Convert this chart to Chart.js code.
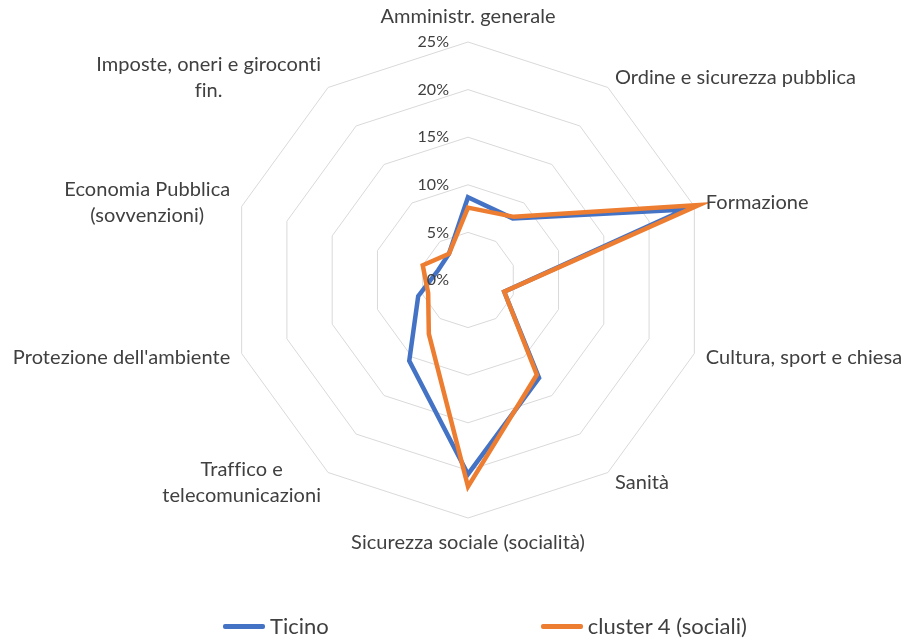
<!DOCTYPE html>
<html>
<head>
<meta charset="utf-8">
<script src="https://cdn.jsdelivr.net/npm/chart.js@4/dist/chart.umd.min.js"></script>
<style>
  body { margin: 0; background: #fff; }
  #wrap { position: relative; width: 905px; height: 641px; }
  #legend { position: absolute; left: 223px; top: 612px; display: flex; gap: 212px;
            font-family: Lato, sans-serif; font-size: 22px; color: #404040;
            font-variant-ligatures: none; }
  .item { display: flex; align-items: center; line-height: 28px; }
  .mark { width: 42px; height: 5px; border-radius: 2px; margin-right: 5px; }
</style>
</head>
<body>
<div id="wrap">
  <canvas id="myChart" width="905" height="641"></canvas>
  <div id="legend"></div>
</div>
<script>
const categories = [
  "Amministr. generale",
  "Ordine e sicurezza pubblica",
  "Formazione",
  "Cultura, sport e chiesa",
  "Sanità",
  "Sicurezza sociale (socialità)",
  ["Traffico e", "telecomunicazioni"],
  "Protezione dell'ambiente",
  ["Economia Pubblica", "(sovvenzioni)"],
  ["Imposte, oneri e giroconti", "fin."]
];
const ticinoValues = [8.7, 8.0, 24.0, 4.0, 12.7, 20.4, 10.5, 5.5, 3.3, 3.4];
const clusterValues = [7.6, 8.2, 25.5, 4.0, 12.3, 21.7, 7.0, 4.4, 5.0, 3.4];
const tickLabels = ["0%", "5%", "10%", "15%", "20%", "25%"];

const textColor = "#404040";

// draws category labels and % ticks Excel-style (ticks sit left of the vertical axis)
const radarText = {
  id: "radarText",
  afterDraw(chart) {
    const scale = chart.scales.r;
    const ctx = chart.ctx;
    ctx.save();
    ctx.fillStyle = textColor;
    ctx.letterSpacing = "0.05px"; // stops the fi ligature

    ctx.font = "16px Lato";
    ctx.textAlign = "right";
    ctx.textBaseline = "middle";
    scale.ticks.forEach((t, i) => {
      const y = scale.yCenter - scale.getDistanceFromCenterForValue(t.value);
      ctx.fillText(tickLabels[i], scale.xCenter - 19, y);
    });

    ctx.font = "20px Lato";
    const lh = 26;
    const n = categories.length;
    categories.forEach((lab, i) => {
      const lines = Array.isArray(lab) ? lab : [lab];
      const p = scale.getPointPosition(i, scale.drawingArea + 12);
      const widths = lines.map(l => ctx.measureText(l).width);
      const w = Math.max(...widths);
      let cx, top;
      if (i === 0) {
        cx = p.x; top = p.y - lines.length * lh;
      } else if (i === n / 2) {
        cx = p.x; top = p.y;
      } else if (i < n / 2) {
        cx = p.x + w / 2; top = p.y - lines.length * lh / 2;
      } else {
        cx = p.x - w / 2; top = p.y - lines.length * lh / 2;
      }
      ctx.textAlign = "center";
      ctx.textBaseline = "middle";
      lines.forEach((l, k) => ctx.fillText(l, cx, top + lh * k + lh / 2));
    });
    ctx.restore();
  }
};

const chart = new Chart(document.getElementById("myChart").getContext("2d"), {
  type: "radar",
  data: {
    labels: categories,
    datasets: [
      {
        label: "Ticino",
        data: ticinoValues,
        borderColor: "#4472C4",
        borderWidth: 4.5,
        pointRadius: 0,
        fill: false,
        clip: false,
        order: 1
      },
      {
        label: "cluster 4 (sociali)",
        data: clusterValues,
        borderColor: "#ED7D31",
        borderWidth: 4.5,
        pointRadius: 0,
        fill: false,
        clip: false,
        order: 0
      }
    ]
  },
  options: {
    responsive: false,
    animation: false,
    layout: { padding: { left: 230, right: 199, top: 42, bottom: 123 } },
    plugins: {
      legend: { display: false },
      tooltip: { enabled: false }
    },
    scales: {
      r: {
        min: 0,
        max: 25,
        ticks: { stepSize: 5, display: false },
        grid: { color: "#D9D9D9", lineWidth: 1 },
        angleLines: { display: false },
        pointLabels: { display: false }
      }
    }
  },
  plugins: [radarText]
});

// html legend
const legend = document.getElementById("legend");
chart.data.datasets.forEach(ds => {
  const item = document.createElement("div");
  item.className = "item";
  const mark = document.createElement("span");
  mark.className = "mark";
  mark.style.background = ds.borderColor;
  item.appendChild(mark);
  item.appendChild(document.createTextNode(ds.label));
  legend.appendChild(item);
});
</script>
</body>
</html>
